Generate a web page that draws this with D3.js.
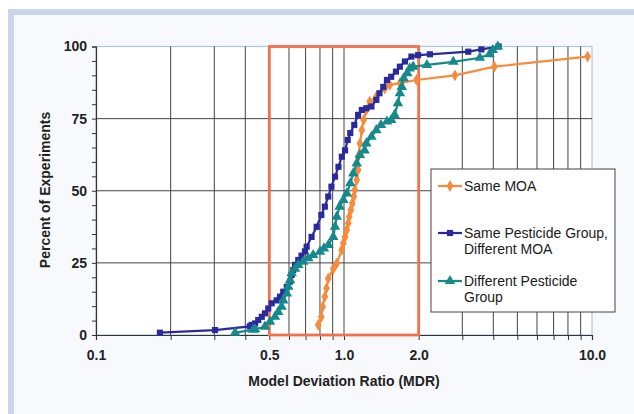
<!DOCTYPE html>
<html>
<head>
<meta charset="utf-8">
<script src="https://cdn.jsdelivr.net/npm/d3@7"></script>
<style>
  body { margin: 0; background: #ffffff; }
  text { font-family: Arial, "Liberation Sans", sans-serif; }
</style>
</head>
<body>
<svg id="chart"></svg>
<script>
// ------------------ data ---------------------------------------------

let sameMoaX = [0.787, 0.81, 0.82, 0.837, 0.85, 0.864, 0.906, 0.935, 0.979, 0.994, 1.01, 1.026, 1.04, 1.05, 1.065, 1.08, 1.095, 1.105, 1.125, 1.14, 1.14, 1.16, 1.18, 1.2, 1.23, 1.27, 1.35, 1.46, 1.53, 1.68, 1.96, 2.8, 4.04, 9.6];
let sameMoaY = [3.5, 6.3, 9.8, 13.3, 16.2, 19.6, 23, 24.8, 29.5, 31.8, 34, 36.4, 38.7, 41, 43.3, 45.6, 48, 50.3, 53.7, 57.2, 61.8, 66.4, 71, 74.5, 78, 80.9, 82.6, 85.5, 86.7, 87.3, 88.4, 90, 93, 96.5];

let sameGroupX = [0.181, 0.302, 0.417, 0.424, 0.438, 0.451, 0.466, 0.48, 0.495, 0.511, 0.535, 0.552, 0.569, 0.588, 0.606, 0.615, 0.624, 0.635, 0.654, 0.674, 0.696, 0.707, 0.74, 0.776, 0.81, 0.837, 0.864, 0.89, 0.92, 0.95, 0.98, 1.01, 1.035, 1.06, 1.1, 1.14, 1.18, 1.23, 1.29, 1.35, 1.39, 1.44, 1.49, 1.55, 1.62, 1.68, 1.76, 1.87, 1.99, 2.22, 3.17, 3.58, 4.2];
let sameGroupY = [0.8, 1.7, 3.0, 3.5, 4, 5.2, 6.3, 7.5, 9.2, 11, 12, 13.3, 15, 16.7, 18.5, 20.8, 22.5, 24.3, 26, 27.5, 29, 30.6, 34, 37.5, 41.6, 44.5, 48, 51.4, 54.9, 58.3, 61.8, 64, 67.6, 70, 72.8, 76.3, 78, 78.6, 79.2, 81.5, 83.8, 86, 88.4, 89.5, 91.3, 93, 94.8, 96.5, 97, 97.3, 98.2, 99, 100];

let diffGroupX = [0.364, 0.43, 0.438, 0.48, 0.503, 0.527, 0.543, 0.56, 0.569, 0.588, 0.596, 0.606, 0.615, 0.635, 0.654, 0.685, 0.718, 0.751, 0.8, 0.83, 0.865, 0.905, 0.92, 0.935, 0.96, 0.994, 1.026, 1.06, 1.09, 1.125, 1.16, 1.21, 1.23, 1.29, 1.35, 1.41, 1.49, 1.55, 1.6, 1.65, 1.68, 1.71, 1.74, 1.8, 1.84, 1.9, 2.16, 2.76, 3.53, 3.86, 3.98, 4.17];
let diffGroupY = [0.8, 1.8, 2, 2.9, 4.6, 6.3, 8, 9.8, 12, 14.4, 16.7, 19, 21.4, 23, 24.3, 25.4, 26.6, 27.7, 28.9, 30, 31.2, 34, 37.5, 41, 44.5, 46.8, 49.1, 52.6, 56, 59.5, 62.4, 64, 66.4, 68.7, 71, 72.8, 74, 74.5, 76.3, 80.3, 83.8, 86, 89, 90.7, 92.4, 93, 93.6, 94.7, 96.1, 97.3, 98.8, 100];

let seriesNames = ['Same MOA', 'Same Pesticide Group, Different MOA', 'Different Pesticide Group'];
let legendLines = [['Same MOA'], ['Same Pesticide Group,', 'Different MOA'], ['Different Pesticide', 'Group']];
let seriesColors = ['#f68b3c', '#2a2a9c', '#16898c'];
let seriesShapes = [d3.symbolDiamond, d3.symbolSquare, d3.symbolTriangle];

let xTickValues = [0.1, 0.5, 1.0, 2.0, 10.0];
let xGridValues = [0.2, 0.3, 0.4, 0.6, 0.7, 0.8, 0.9, 1, 3, 4, 5, 6, 7, 8, 9];
let yTickValues = [0, 25, 50, 75, 100];
let rangeBox = [0.5, 2.0]; // the orange box of acceptable MDR

// ------------------ svg and frame ---------------------

let svgWidth = 634;
let svgHeight = 414;

let svg = d3.select('#chart')
    .attr('width', svgWidth)
    .attr('height', svgHeight);

svg.append('rect') // light blue frame
    .attr('x', 8).attr('y', 9)
    .attr('width', svgWidth - 8).attr('height', svgHeight - 9)
    .attr('fill', '#c8d5ec');

svg.append('rect') // inner panel
    .attr('x', 14).attr('y', 15)
    .attr('width', svgWidth - 14).attr('height', svgHeight - 15)
    .attr('fill', '#f8f9fd');

// ------------------ scales ---------------------

let plotLeft = 96, plotRight = 592, plotTop = 46.5, plotBottom = 335;

let xScale = d3.scaleLog()
    .domain([0.1, 10])
    .range([plotLeft, plotRight]);

let yScale = d3.scaleLinear()
    .domain([0, 100])
    .range([plotBottom, plotTop]);

svg.append('rect') // plot area
    .attr('x', plotLeft).attr('y', plotTop)
    .attr('width', plotRight - plotLeft).attr('height', plotBottom - plotTop)
    .attr('fill', '#ffffff')
    .attr('stroke', '#a9c9dc')
    .attr('stroke-width', 1.2);

// ------------------ grid ---------------------

svg.append('g')
    .selectAll('line')
    .data(xGridValues)
    .enter()
    .append('line')
    .attr('x1', d => xScale(d)).attr('x2', d => xScale(d))
    .attr('y1', plotTop).attr('y2', plotBottom)
    .attr('stroke', '#444')
    .attr('stroke-width', 1);

svg.append('g')
    .selectAll('line')
    .data([25, 50, 75])
    .enter()
    .append('line')
    .attr('x1', plotLeft).attr('x2', plotRight)
    .attr('y1', d => yScale(d)).attr('y2', d => yScale(d))
    .attr('stroke', '#444')
    .attr('stroke-width', 1);

// ------------------ axes ---------------------

let x_axis = d3.axisBottom(xScale)
    .tickValues([0.1, 0.2, 0.3, 0.4, 0.5, 0.6, 0.7, 0.8, 0.9, 1, 2, 3, 4, 5, 6, 7, 8, 9, 10])
    .tickSize(5)
    .tickFormat(d => xTickValues.indexOf(d) >= 0 ? d3.format('.1f')(d) : '');

let xg = svg.append('g')
    .attr('transform', 'translate(0,' + plotBottom + ')')
    .call(x_axis);
xg.select('.domain').attr('stroke', '#333').attr('stroke-width', 1.2);
xg.selectAll('.tick line').attr('stroke', '#333');
xg.selectAll('.tick text')
    .attr('dy', '1.2em')
    .style('font-size', '14px')
    .style('font-weight', 'bold')
    .attr('fill', '#222');

let y_axis = d3.axisLeft(yScale)
    .tickValues(d3.range(0, 101, 5))
    .tickSize(4)
    .tickFormat(d => yTickValues.indexOf(d) >= 0 ? d : '');

let yg = svg.append('g')
    .attr('transform', 'translate(' + plotLeft + ',0)')
    .call(y_axis);
yg.select('.domain').attr('stroke', '#333').attr('stroke-width', 1.2);
yg.selectAll('.tick line').attr('stroke', '#333');
yg.selectAll('.tick text')
    .attr('x', -9)
    .style('font-size', '14px')
    .style('font-weight', 'bold')
    .attr('fill', '#222');

svg.append('text')
    .attr('x', 344).attr('y', 386)
    .attr('text-anchor', 'middle')
    .style('font-size', '14px')
    .style('font-weight', 'bold')
    .attr('fill', '#222')
    .text('Model Deviation Ratio (MDR)');

svg.append('text')
    .attr('transform', 'translate(50,190) rotate(-90)')
    .attr('text-anchor', 'middle')
    .style('font-size', '14px')
    .style('font-weight', 'bold')
    .attr('fill', '#222')
    .text('Percent of Experiments');

// ------------------ orange box ---------------------

svg.append('rect')
    .attr('x', xScale(rangeBox[0]))
    .attr('y', yScale(100))
    .attr('width', xScale(rangeBox[1]) - xScale(rangeBox[0]))
    .attr('height', yScale(0) - yScale(100))
    .attr('fill', 'none')
    .attr('stroke', '#f2714a')
    .attr('stroke-width', 2.8);

// ------------------ series ---------------------

let allSeries = [
    { x: sameMoaX, y: sameMoaY },
    { x: sameGroupX, y: sameGroupY },
    { x: diffGroupX, y: diffGroupY }
];

let line = d3.line()
    .x(d => xScale(d[0]))
    .y(d => yScale(d[1]));

let markerSizes = [40, 38, 48];

allSeries.forEach(function(s, i) {
    let pts = s.x.map((v, j) => [v, s.y[j]]);
    let g = svg.append('g');
    g.append('path')
        .attr('d', line(pts))
        .attr('fill', 'none')
        .attr('stroke', seriesColors[i])
        .attr('stroke-width', 2.2);
    g.selectAll('path.pt')
        .data(pts)
        .enter()
        .append('path')
        .attr('class', 'pt')
        .attr('d', d3.symbol().type(seriesShapes[i]).size(markerSizes[i]))
        .attr('transform', d => 'translate(' + xScale(d[0]) + ',' + yScale(d[1]) + ')')
        .attr('fill', seriesColors[i]);
});

// ------------------ legend ---------------------

let legend = svg.append('g');

legend.append('rect')
    .attr('x', 431).attr('y', 169)
    .attr('width', 184).attr('height', 143)
    .attr('fill', '#ffffff')
    .attr('stroke', '#444')
    .attr('stroke-width', 1);

let legendY = [186, 233, 281];

legendLines.forEach(function(lines, i) {
    let ly = legendY[i];
    legend.append('line')
        .attr('x1', 438).attr('x2', 462)
        .attr('y1', ly).attr('y2', ly)
        .attr('stroke', seriesColors[i])
        .attr('stroke-width', 2.2);
    legend.append('path')
        .attr('d', d3.symbol().type(seriesShapes[i]).size(markerSizes[i]))
        .attr('transform', 'translate(450,' + ly + ')')
        .attr('fill', seriesColors[i]);
    lines.forEach(function(t, k) {
        legend.append('text')
            .attr('x', 464)
            .attr('y', ly + k * 16)
            .attr('dy', '0.35em')
            .style('font-size', '14px')
            .attr('fill', '#1a1a1a')
            .text(t);
    });
});
</script>
</body>
</html>
